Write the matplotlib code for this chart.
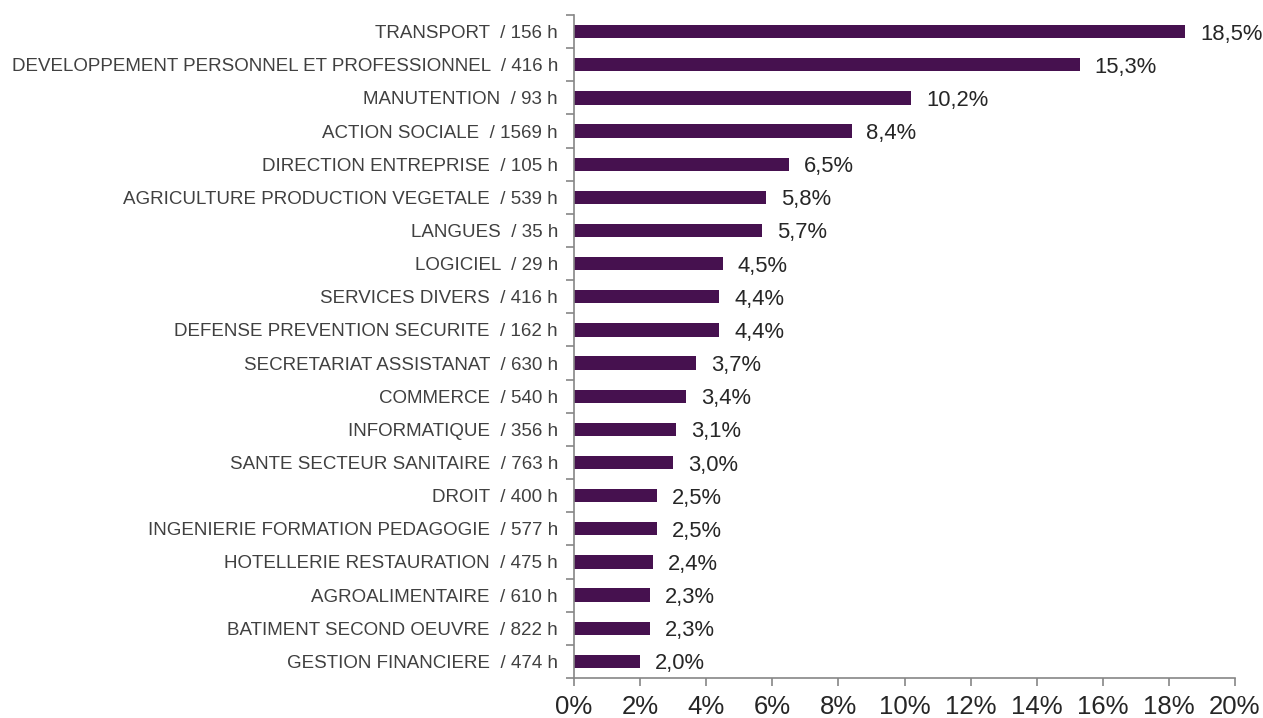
import matplotlib.pyplot as plt
import numpy as np

plt.rcParams['font.family'] = ['Liberation Sans', 'DejaVu Sans']

# Data (top to bottom as in the chart)
domaines = [
    "TRANSPORT", "DEVELOPPEMENT PERSONNEL ET PROFESSIONNEL", "MANUTENTION",
    "ACTION SOCIALE", "DIRECTION ENTREPRISE", "AGRICULTURE PRODUCTION VEGETALE",
    "LANGUES", "LOGICIEL", "SERVICES DIVERS", "DEFENSE PREVENTION SECURITE",
    "SECRETARIAT ASSISTANAT", "COMMERCE", "INFORMATIQUE",
    "SANTE SECTEUR SANITAIRE", "DROIT", "INGENIERIE FORMATION PEDAGOGIE",
    "HOTELLERIE RESTAURATION", "AGROALIMENTAIRE", "BATIMENT SECOND OEUVRE",
    "GESTION FINANCIERE",
]
heures = [156, 416, 93, 1569, 105, 539, 35, 29, 416, 162,
          630, 540, 356, 763, 400, 577, 475, 610, 822, 474]
parts = [18.5, 15.3, 10.2, 8.4, 6.5, 5.8, 5.7, 4.5, 4.4, 4.4,
         3.7, 3.4, 3.1, 3.0, 2.5, 2.5, 2.4, 2.3, 2.3, 2.0]

labels = [f"{d}  / {h} h" for d, h in zip(domaines, heures)]
y = np.arange(len(parts))[::-1]

fig = plt.figure(figsize=(12.63, 7.18), dpi=100)
ax = fig.add_axes([574/1263, 1 - 678/718, (1235 - 574)/1263, (678 - 15)/718])

ax.barh(y, parts, height=0.4, color="#46114F")

# value labels next to the bars
for yi, v in zip(y, parts):
    ax.text(v + 0.45, yi, f"{v:.1f}%".replace(".", ","), va="center_baseline",
            ha="left", fontsize=15.8, color="#262626")

ax.set_xlim(0, 20)
ax.set_ylim(-0.5, len(parts) - 0.5)
ax.set_xticks(np.arange(0, 21, 2))
ax.set_xticklabels([f"{t}%" for t in range(0, 21, 2)], fontsize=18.5, color="#262626")

ax.set_yticks(y)
ax.set_yticklabels(labels, fontsize=13.5, color="#404040", va="center_baseline")
ax.set_yticks(np.arange(-0.5, len(parts), 1), minor=True)
ax.tick_params(axis="y", which="major", length=0, pad=11.5)
ax.tick_params(axis="y", which="minor", length=6, color="#868686", width=1.2)
ax.tick_params(axis="x", length=6, color="#868686", width=1.2, pad=6)

for s in ["top", "right"]:
    ax.spines[s].set_visible(False)
for s in ["left", "bottom"]:
    ax.spines[s].set_color("#868686")
    ax.spines[s].set_linewidth(1.2)

fig.savefig("out.png", dpi=100)
